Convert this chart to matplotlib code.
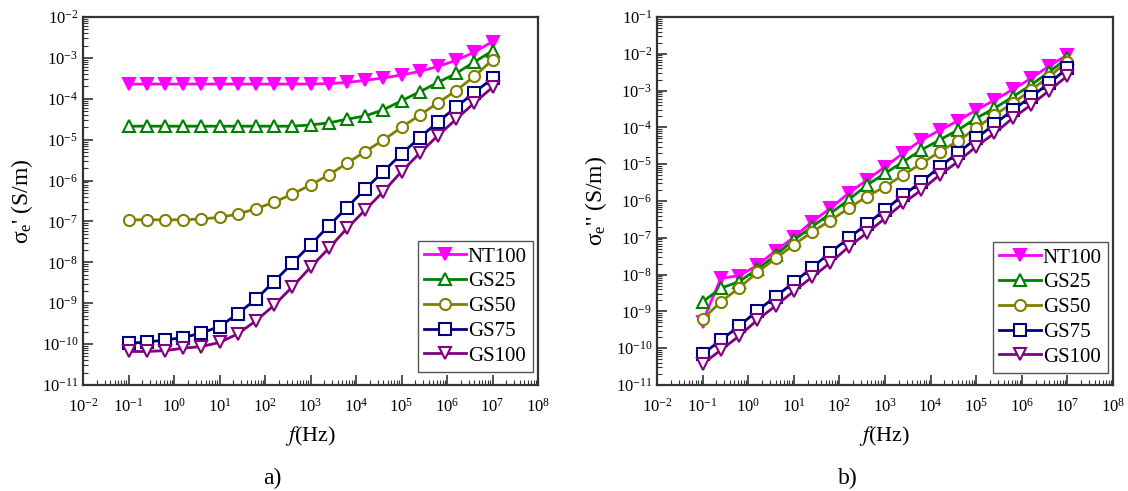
import numpy as np
import matplotlib
matplotlib.use("Agg")
import matplotlib.pyplot as plt
from matplotlib.ticker import LogLocator, NullFormatter

plt.rcParams['font.family'] = ['Liberation Serif', 'DejaVu Serif']
plt.rcParams['mathtext.fontset'] = 'stix'
plt.rcParams['mathtext.default'] = 'regular'

#%% data (log10 values)
logf = np.arange(21) * 0.4 - 1.0
freq = 10 ** logf
labels = ['NT100', 'GS25', 'GS50', 'GS75', 'GS100']

# a) real part sigma'
re_NT100 = [-3.64, -3.64, -3.64, -3.64, -3.64, -3.64, -3.64, -3.64, -3.64, -3.64,
            -3.64, -3.63, -3.60, -3.55, -3.49, -3.42, -3.33, -3.21, -3.06, -2.86, -2.60]
re_GS25 = [-4.67, -4.67, -4.67, -4.67, -4.67, -4.67, -4.67, -4.67, -4.67, -4.67,
           -4.64, -4.59, -4.50, -4.42, -4.27, -4.05, -3.83, -3.60, -3.38, -3.10, -2.83]
re_GS50 = [-6.96, -6.96, -6.96, -6.96, -6.94, -6.90, -6.82, -6.69, -6.53, -6.33,
           -6.11, -5.86, -5.58, -5.29, -5.01, -4.70, -4.40, -4.10, -3.80, -3.45, -3.05]
re_GS75 = [-9.98, -9.95, -9.90, -9.84, -9.73, -9.57, -9.26, -8.90, -8.47, -8.02,
           -7.57, -7.11, -6.66, -6.21, -5.78, -5.35, -4.95, -4.57, -4.20, -3.85, -3.50]
re_GS100 = [-10.18, -10.18, -10.16, -10.10, -10.06, -9.96, -9.75, -9.43, -9.05, -8.60,
            -8.12, -7.66, -7.17, -6.72, -6.27, -5.78, -5.33, -4.90, -4.50, -4.10, -3.72]

# b) imaginary part sigma''
im_NT100 = [-9.28, -8.10, -8.03, -7.75, -7.35, -6.99, -6.56, -6.20, -5.79, -5.43,
            -5.07, -4.70, -4.34, -4.08, -3.82, -3.53, -3.26, -2.97, -2.67, -2.33, -2.03]
im_GS25 = [-8.74, -8.37, -8.19, -7.85, -7.47, -7.06, -6.70, -6.34, -5.97, -5.57,
           -5.25, -4.93, -4.61, -4.34, -4.07, -3.75, -3.48, -3.17, -2.85, -2.49, -2.12]
im_GS50 = [-9.21, -8.74, -8.36, -7.94, -7.56, -7.19, -6.84, -6.53, -6.20, -5.88,
           -5.61, -5.29, -4.98, -4.66, -4.37, -4.02, -3.66, -3.35, -2.98, -2.62, -2.21]
im_GS75 = [-10.16, -9.78, -9.40, -8.98, -8.60, -8.21, -7.81, -7.40, -7.01, -6.63,
           -6.24, -5.84, -5.48, -5.07, -4.69, -4.30, -3.91, -3.53, -3.17, -2.80, -2.39]
im_GS100 = [-10.43, -10.05, -9.67, -9.23, -8.85, -8.45, -8.07, -7.68, -7.25, -6.87,
            -6.47, -6.06, -5.70, -5.29, -4.93, -4.52, -4.16, -3.75, -3.39, -3.00, -2.60]

colors = ['#ff00ff', '#008000', '#808000', '#000080', '#800080']
markers = ['v', '^', 'o', 's', 'v']
filled = [True, False, False, False, False]

#%% figure
fig = plt.figure(figsize=(11.28, 4.91), dpi=100)
axa = fig.add_axes([83/1128, 1-385/491, 455/1128, 368/491])
axb = fig.add_axes([657/1128, 1-385/491, 456/1128, 368/491])

def draw(ax, series, ylim, ylabel, legend_br):
    for lab, vals, c, m, fl in zip(labels, series, colors, markers, filled):
        ax.plot(freq, 10 ** np.array(vals), color=c, lw=2, marker=m, ms=8,
                mew=1.5, mfc=c if fl else 'white', mec=c, label=lab)
    ax.set_xscale('log')
    ax.set_yscale('log')
    ax.set_xlim(1e-2, 1e8)
    ax.set_ylim(*ylim)
    for axis in (ax.xaxis, ax.yaxis):
        axis.set_major_locator(LogLocator(base=10, numticks=30))
        axis.set_minor_locator(LogLocator(base=10, subs=np.arange(2, 10), numticks=300))
        axis.set_minor_formatter(NullFormatter())
    ax.tick_params(which='both', direction='in', top=False, right=False,
                   labelsize=12, color='#333333')
    ax.tick_params(which='major', length=7, width=1.2)
    ax.tick_params(which='minor', length=3.5, width=0.8)
    ax.tick_params(axis='x', pad=9)
    for s in ax.spines.values():
        s.set_linewidth(1.6)
        s.set_color('#333333')
    ax.set_xlabel('$\\mathit{f}$(Hz)', fontsize=16, labelpad=6)
    ax.set_ylabel(ylabel, fontsize=17, labelpad=5)
    leg = ax.legend(loc='lower right', bbox_to_anchor=legend_br,
                    bbox_transform=fig.transFigure, borderaxespad=0,
                    fontsize=15, handlelength=2.0, handletextpad=0.1,
                    labelspacing=0.25, borderpad=0.3, fancybox=False,
                    edgecolor='#555555', framealpha=1)
    leg.get_frame().set_linewidth(1.0)

draw(axa, [re_NT100, re_GS25, re_GS50, re_GS75, re_GS100], (1e-11, 1e-2),
     "$\\sigma_{e}$' (S/m)", (533/1128, 1-372/491))
draw(axb, [im_NT100, im_GS25, im_GS50, im_GS75, im_GS100], (1e-11, 1e-1),
     "$\\sigma_{e}$'' (S/m)", (1108/1128, 1-373/491))

fig.text(272/1128, 1-478/491, 'a)', fontsize=17, ha='center', va='center')
fig.text(848/1128, 1-478/491, 'b)', fontsize=17, ha='center', va='center')

fig.savefig('out.png', dpi=100)
